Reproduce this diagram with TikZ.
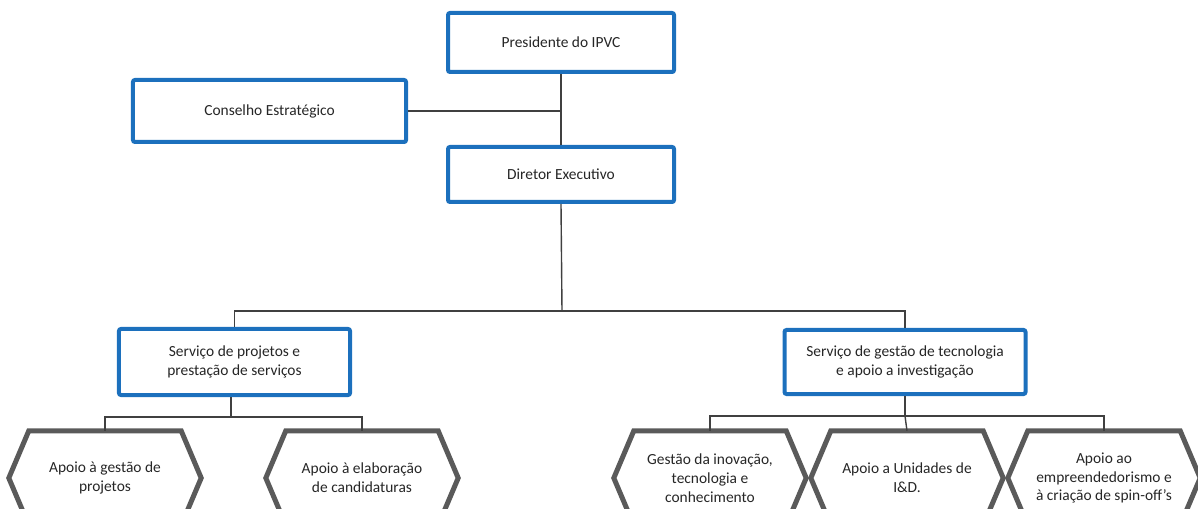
\documentclass[tikz,border=0pt]{standalone}
\usepackage{fontspec}
\setmainfont{Carlito}
\usetikzlibrary{positioning}
\definecolor{azul}{RGB}{28,112,189}
\definecolor{cinza}{RGB}{90,90,90}
\definecolor{texto}{RGB}{38,38,38}
\tikzset{
  caixa/.style={draw=azul,line width=4bp,rounded corners=2bp,fill=white,align=center,inner sep=0pt,text=texto},
  hexa/.style={align=center,inner sep=0pt,minimum width=192bp,minimum height=94bp,text=texto},
  borda/.style={draw=cinza,line width=5bp,line join=miter},
  liga/.style={draw=black!75,line width=1.4bp},
}

\begin{document}
\begin{tikzpicture}[x=1bp,y=-1bp,font=\fontsize{15.5}{19}\selectfont]
  \useasboundingbox (0,0) rectangle (1198,509);
  \clip (0,0) rectangle (1198,509);
  % topo
  \node[caixa,minimum width=226bp,minimum height=59bp] (pres) at (561,42.5) {Presidente do IPVC};
  \node[caixa,minimum width=273bp,minimum height=62bp] (cons) at (269.5,111) {Conselho Estratégico};
  \node[caixa,minimum width=226bp,minimum height=55bp] (dir) at (561,174.5) {Diretor Executivo};
  % servicos
  \node[caixa,minimum width=231bp,minimum height=66bp] (sp) at (234.5,362) {Serviço de projetos e\\prestação de serviços};
  \node[caixa,minimum width=241bp,minimum height=64bp] (sg) at (905,362) {Serviço de gestão de tecnologia\\e apoio a investigação};
  % apoios
  \node[hexa] (h1) at (105,478) {Apoio à gestão de\\projetos};
  \node[hexa] (h2) at (362,478) {Apoio à elaboração\\de candidaturas};
  \node[hexa] (h3) at (710,478) {Gestão da inovação,\\tecnologia e\\conhecimento};
  \node[hexa] (h4) at (907,478) {Apoio a Unidades de\\I\&D.};
  \node[hexa] (h5) at (1104,478) {Apoio ao\\empreendedorismo e\\à criação de spin-off's};
  \foreach \h in {h1,h2,h3,h4,h5}
    \draw[borda] ([xshift=20bp]\h.north west) -- ([xshift=-20bp]\h.north east) -- (\h.east)
      -- ([xshift=-20bp]\h.south east) -- ([xshift=20bp]\h.south west) -- (\h.west) -- cycle;
  % ligacoes
  \coordinate (b0) at (562,311);
  \coordinate (b1) at (231,417);
  \coordinate (b2) at (905,416);
  \draw[liga] (pres) -- (dir);
  \draw[liga] (cons.east) -- (cons.east -| pres.south);
  \draw[liga] (dir.south) -- (b0);
  \draw[liga] (sp.north) |- (b0) -| (sg.north);
  \draw[liga] (b1 |- sp.south) -- (b1);
  \draw[liga] (h1.north) |- (b1) -| (h2.north);
  \draw[liga] (sg.south) -- (b2);
  \draw[liga] (h3.north) |- (b2) -| (h5.north);
  \draw[liga] (b2) -- (h4.north);
\end{tikzpicture}
\end{document}
